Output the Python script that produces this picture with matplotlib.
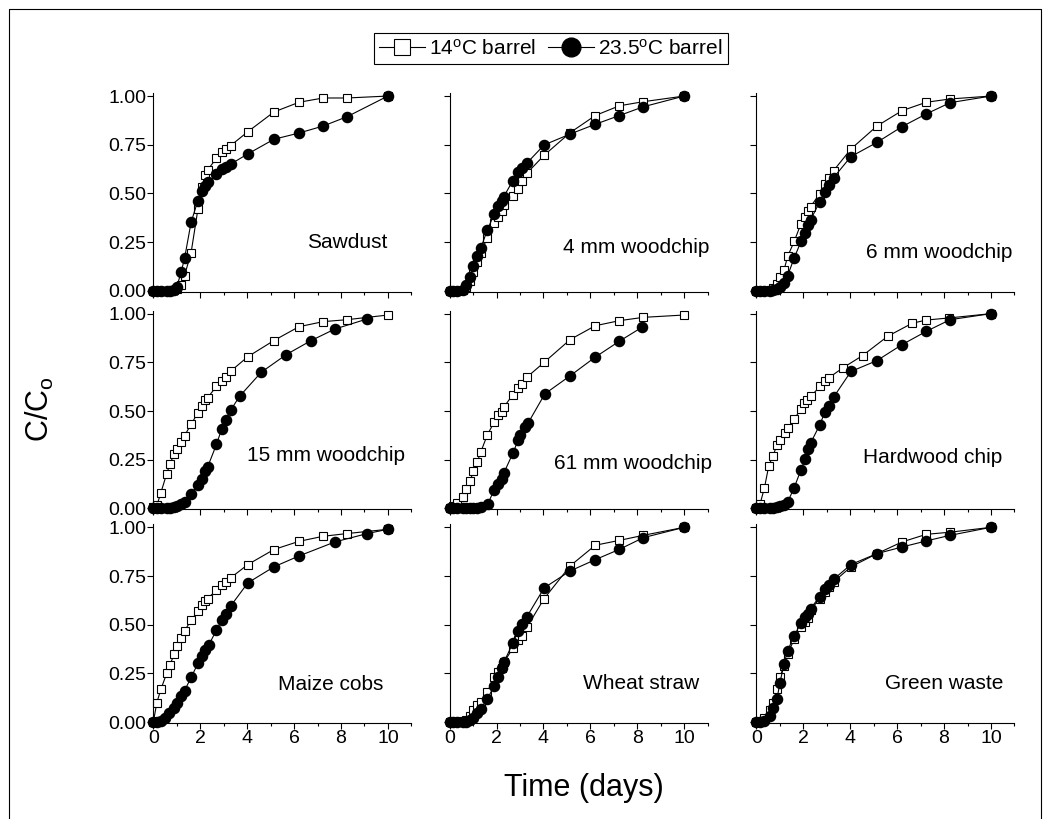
import matplotlib.pyplot as plt
from matplotlib.lines import Line2D
from matplotlib.ticker import MultipleLocator, FormatStrFormatter

plt.rcParams['font.family'] = ['Liberation Sans', 'DejaVu Sans']
plt.rcParams['mathtext.fontset'] = 'custom'
plt.rcParams['mathtext.rm'] = 'Liberation Sans'
plt.rcParams['mathtext.it'] = 'Liberation Sans:italic'

names = ["Sawdust", "4 mm woodchip", "6 mm woodchip",
         "15 mm woodchip", "61 mm woodchip", "Hardwood chip",
         "Maize cobs", "Wheat straw", "Green waste"]

# sampling times (days)
t_std = [0.0, 0.15, 0.32, 0.57, 0.71, 0.88, 1.0, 1.18, 1.33, 1.61, 1.9, 2.08,
         2.22, 2.31, 2.69, 2.92, 3.08, 3.29, 4.03, 5.14, 6.21, 7.24, 8.26, 10.0]
t_15mm_23 = [0.0, 0.15, 0.32, 0.57, 0.71, 0.88, 1.0, 1.18, 1.33, 1.61, 1.9, 2.08,
             2.22, 2.31, 2.69, 2.92, 3.08, 3.29, 3.68, 4.6, 5.67, 6.73, 7.74, 9.12]
t_61mm_23 = [0.0, 0.15, 0.32, 0.57, 0.71, 0.88, 1.0, 1.18, 1.33, 1.62, 1.9, 2.08,
             2.22, 2.31, 2.7, 2.92, 3.01, 3.23, 3.34, 4.06, 5.15, 6.2, 7.23, 8.2]
t_hard_14 = [0.0, 0.15, 0.34, 0.53, 0.7, 0.87, 1.0, 1.2, 1.34, 1.62, 1.9, 2.05,
             2.15, 2.33, 2.71, 2.94, 3.08, 3.68, 4.53, 5.6, 6.63, 7.23, 8.22, 10.0]
t_maize_23 = [0.0, 0.14, 0.32, 0.5, 0.68, 0.86, 1.0, 1.18, 1.33, 1.61, 1.9, 2.08,
              2.22, 2.36, 2.69, 2.92, 3.11, 3.29, 4.03, 5.14, 6.21, 7.74, 9.12, 10.0]

# C/Co, 14 oC barrel
sawdust_14 = [0, 0, 0, 0, 0, 0.005, 0.01, 0.03, 0.078, 0.196, 0.419, 0.535, 0.597,
              0.62, 0.68, 0.714, 0.727, 0.745, 0.817, 0.918, 0.968, 0.99, 0.99, 1.0]
wc4_14 = [0, 0, 0, 0.005, 0.02, 0.05, 0.094, 0.15, 0.196, 0.273, 0.35, 0.38, 0.41,
          0.438, 0.489, 0.525, 0.564, 0.603, 0.696, 0.812, 0.9, 0.95, 0.971, 1.0]
wc6_14 = [0, 0, 0, 0.005, 0.015, 0.035, 0.07, 0.108, 0.176, 0.253, 0.344, 0.38, 0.41,
          0.432, 0.497, 0.549, 0.578, 0.617, 0.728, 0.846, 0.925, 0.968, 0.985, 1.0]
wc15_14 = [0.005, 0.015, 0.08, 0.178, 0.229, 0.277, 0.303, 0.342, 0.374, 0.431, 0.492,
           0.525, 0.554, 0.568, 0.626, 0.656, 0.677, 0.704, 0.779, 0.862, 0.933,
           0.959, 0.969, 0.993]
wc61_14 = [0.0, 0.01, 0.03, 0.06, 0.1, 0.14, 0.19, 0.24, 0.29, 0.378, 0.443, 0.477,
           0.497, 0.52, 0.583, 0.62, 0.639, 0.673, 0.75, 0.867, 0.938, 0.964, 0.981, 0.993]
hard_14 = [0.0, 0.02, 0.104, 0.22, 0.268, 0.323, 0.352, 0.386, 0.412, 0.46, 0.511,
           0.542, 0.557, 0.576, 0.627, 0.656, 0.67, 0.721, 0.785, 0.884, 0.95, 0.967,
           0.978, 1.0]
maize_14 = [0.0, 0.10, 0.168, 0.25, 0.292, 0.349, 0.391, 0.434, 0.468, 0.523, 0.569,
            0.6, 0.62, 0.634, 0.677, 0.706, 0.72, 0.74, 0.809, 0.886, 0.928, 0.954,
            0.968, 0.99]
wheat_14 = [0, 0, 0, 0.005, 0.01, 0.03, 0.06, 0.085, 0.105, 0.155, 0.229, 0.258, 0.28,
            0.306, 0.378, 0.42, 0.441, 0.486, 0.634, 0.802, 0.908, 0.933, 0.959, 1.0]
green_14 = [0.0, 0.005, 0.02, 0.06, 0.1, 0.17, 0.23, 0.29, 0.352, 0.424, 0.489, 0.515,
            0.532, 0.574, 0.634, 0.668, 0.694, 0.72, 0.797, 0.865, 0.925, 0.964, 0.975, 1.0]

# C/Co, 23.5 oC barrel
sawdust_23 = [0, 0, 0, 0, 0, 0.005, 0.02, 0.094, 0.166, 0.352, 0.463, 0.51, 0.538,
              0.556, 0.598, 0.624, 0.637, 0.65, 0.703, 0.778, 0.81, 0.846, 0.894, 1.0]
wc4_23 = [0, 0, 0, 0.005, 0.03, 0.07, 0.125, 0.176, 0.219, 0.313, 0.393, 0.437, 0.46,
          0.484, 0.564, 0.609, 0.629, 0.655, 0.749, 0.805, 0.855, 0.9, 0.945, 1.0]
wc6_23 = [0, 0, 0, 0, 0.005, 0.01, 0.02, 0.04, 0.077, 0.168, 0.253, 0.299, 0.338,
          0.364, 0.455, 0.509, 0.544, 0.581, 0.689, 0.762, 0.843, 0.908, 0.966, 1.0]
wc15_23 = [0, 0, 0, 0, 0.002, 0.005, 0.01, 0.02, 0.032, 0.075, 0.118, 0.152, 0.191,
           0.211, 0.328, 0.41, 0.455, 0.503, 0.576, 0.699, 0.79, 0.862, 0.921, 0.973]
wc61_23 = [0, 0, 0, 0, 0, 0, 0, 0.002, 0.005, 0.02, 0.096, 0.125, 0.152, 0.181, 0.284,
           0.35, 0.378, 0.417, 0.437, 0.588, 0.682, 0.776, 0.858, 0.93]
hard_23 = [0, 0, 0, 0, 0, 0.005, 0.01, 0.015, 0.032, 0.106, 0.198, 0.255, 0.306, 0.335,
           0.426, 0.494, 0.528, 0.571, 0.703, 0.759, 0.841, 0.909, 0.969, 1.0]
maize_23 = [0.0, 0.0, 0.005, 0.019, 0.045, 0.07, 0.096, 0.133, 0.161, 0.229, 0.301,
            0.338, 0.369, 0.395, 0.472, 0.523, 0.554, 0.595, 0.715, 0.797, 0.853,
            0.925, 0.968, 0.99]
wheat_23 = [0, 0, 0, 0, 0.002, 0.008, 0.02, 0.045, 0.068, 0.118, 0.186, 0.232, 0.275,
            0.306, 0.404, 0.467, 0.501, 0.54, 0.689, 0.776, 0.834, 0.887, 0.947, 1.0]
green_23 = [0, 0, 0.005, 0.03, 0.07, 0.12, 0.2, 0.3, 0.366, 0.443, 0.509, 0.537, 0.557,
            0.583, 0.643, 0.682, 0.706, 0.733, 0.809, 0.865, 0.899, 0.93, 0.959, 1.0]

x14 = [t_std, t_std, t_std, t_std, t_std, t_hard_14, t_std, t_std, t_std]
y14 = [sawdust_14, wc4_14, wc6_14, wc15_14, wc61_14, hard_14, maize_14, wheat_14, green_14]
x23 = [t_std, t_std, t_std, t_15mm_23, t_61mm_23, t_std, t_maize_23, t_std, t_std]
y23 = [sawdust_23, wc4_23, wc6_23, wc15_23, wc61_23, hard_23, maize_23, wheat_23, green_23]

# where the panel names sit (right edge, centre) in data units
name_pos = [(10.0, 0.25), (11.07, 0.22), (10.9, 0.195),
            (10.75, 0.27), (11.2, 0.23), (10.5, 0.26),
            (9.8, 0.195), (10.65, 0.2), (10.55, 0.2)]

fig = plt.figure(figsize=(10.51, 8.19), dpi=100)
lefts = [0.1459, 0.4278, 0.7197]
bottoms = [0.6438, 0.3781, 0.1172]
w, h = 0.2455, 0.2425

lab14 = '14$^\\mathrm{o}$C barrel'
lab23 = '23.5$^\\mathrm{o}$C barrel'

for i in range(9):
    row, col = i // 3, i % 3
    ax = fig.add_axes([lefts[col], bottoms[row], w, h])
    ax.plot(x14[i], y14[i], '-s', color='black', mfc='white', mec='black',
            ms=6.3, mew=0.8, lw=0.8, clip_on=False, label=lab14)
    ax.plot(x23[i], y23[i], '-o', color='black', ms=7.3, lw=0.8,
            clip_on=False, label=lab23)
    ax.set_xlim(0, 11)
    ax.set_ylim(-0.005, 1.015)
    ax.xaxis.set_major_locator(MultipleLocator(2))
    ax.xaxis.set_minor_locator(MultipleLocator(1))
    ax.set_yticks([0, 0.25, 0.5, 0.75, 1.0])
    ax.yaxis.set_major_formatter(FormatStrFormatter('%.2f'))
    ax.spines['top'].set_visible(False)
    ax.spines['right'].set_visible(False)
    for s in ['left', 'bottom']:
        ax.spines[s].set_linewidth(0.8)
    ax.tick_params(which='major', direction='out', length=4, width=0.8, labelsize=14, pad=1)
    ax.tick_params(which='minor', direction='out', length=2.5, width=0.8)
    if row < 2:
        ax.tick_params(labelbottom=False)
    if col > 0:
        ax.tick_params(labelleft=False)
    nx, ny = name_pos[i]
    ax.text(nx, ny, names[i], ha='right', va='center', fontsize=15)
    if i == 0:
        handles, labels = ax.get_legend_handles_labels()

leg = fig.legend(handles, labels, loc='center', bbox_to_anchor=(0.524, 0.941), ncol=2,
                 frameon=True, fancybox=False, edgecolor='black', framealpha=1,
                 fontsize=15, markerscale=1.85, handlelength=2.2, handletextpad=0.2,
                 columnspacing=0.6, borderpad=0.25)
leg.get_frame().set_linewidth(0.8)

fig.text(0.556, 0.038, 'Time (days)', ha='center', va='center', fontsize=22)
fig.text(0.038, 0.5, 'C/C$_\\mathrm{o}$', ha='center', va='center', rotation=90, fontsize=22)

# outer frame
x0, x1, yt = 9 / 1051, 1041 / 1051, 1 - 9 / 819
fig.add_artist(Line2D([x0, x0, x1, x1], [0, yt, yt, 0], transform=fig.transFigure,
                      color='black', lw=0.8))

fig.savefig('out.png', dpi=100)
